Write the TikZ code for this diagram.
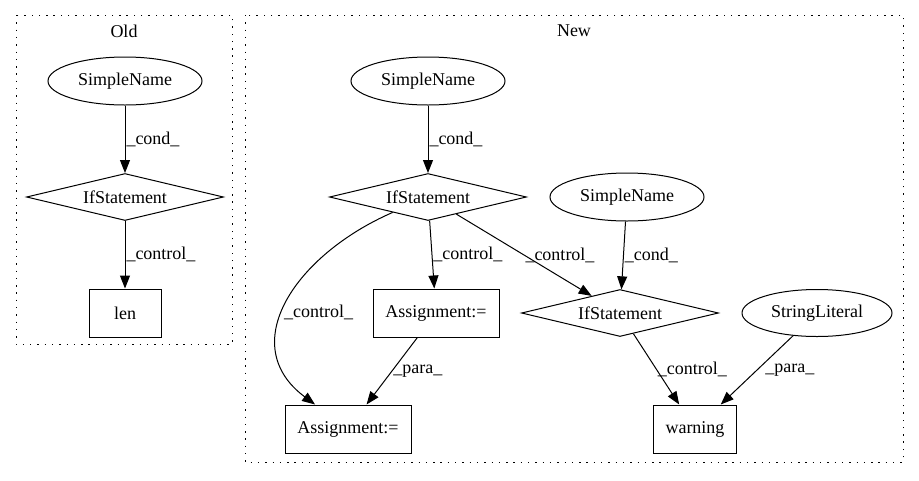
\documentclass[tikz,border=0pt]{standalone}
\usepackage{fontspec}
\setmainfont{Liberation Serif}
\usetikzlibrary{shapes.geometric,arrows.meta}

\begin{document}
\begin{tikzpicture}[x=1pt,y=-1pt,->,>={Triangle[length=13pt,width=10pt]},line width=1pt,
    font=\fontsize{18}{20}\selectfont]
    \tikzstyle{cluster}=[-,dash pattern=on 1.4pt off 5.9pt]
    \tikzstyle{token}=[draw,ellipse,minimum width=154pt,minimum height=48pt,inner sep=0pt]
    \tikzstyle{ifnode}=[draw,diamond,aspect=4.2,minimum width=197pt,minimum height=47pt,inner sep=0pt]
    \tikzstyle{stmt}=[draw,rectangle,minimum height=48pt,inner sep=0pt]
    \tikzstyle{lbl}=[anchor=west,inner sep=1pt]

    \useasboundingbox (0,0) rectangle (919,480);

    % The old version
    \draw[cluster] (16,15) rectangle (232,344);
    \node (old) at (124,31) {Old};
    \node[token] (O-sn) at (125,81) {SimpleName};
    \node[ifnode] (O-if) at (125,197) {IfStatement};
    \node[stmt,minimum width=72pt] (O-len) at (125,313) {len};

    \draw (O-sn) -- node[lbl] {\_cond\_} (O-if);
    \draw (O-if) -- node[lbl] {\_control\_} (O-len);

    % The new version
    \draw[cluster] (245,15) rectangle (903,462);
    \node (new) at (574,31) {New};
    \node[token] (N-sn1) at (428,81) {SimpleName};
    \node[ifnode] (N-if1) at (428,197) {IfStatement};
    \node[token] (N-sn2) at (627,197) {SimpleName};
    \node[stmt,minimum width=126pt] (N-as1) at (436,313) {Assignment:=};
    \node[ifnode] (N-if2) at (620,313) {IfStatement};
    \node[token,minimum width=150pt,minimum height=47pt] (N-str) at (817,313) {StringLiteral};
    \node[stmt,minimum width=126pt] (N-as2) at (348,429) {Assignment:=};
    \node[stmt,minimum width=83pt] (N-warn) at (695,429) {warning};

    % Connect them
    \draw (N-sn1) -- node[lbl] {\_cond\_} (N-if1);
    \draw (N-if1) -- node[lbl] {\_control\_} (N-as1);
    \draw (N-if1) -- node[lbl] {\_control\_} (N-if2);
    \draw (N-if1) .. controls (295,255) and (235,345) .. node[lbl,pos=0.55] {\_control\_} (N-as2);
    \draw (N-as1) -- node[lbl] {\_para\_} (N-as2);
    \draw (N-sn2) -- node[lbl] {\_cond\_} (N-if2);
    \draw (N-if2) -- node[lbl] {\_control\_} (N-warn);
    \draw (N-str) -- node[lbl,xshift=7pt] {\_para\_} (N-warn);
\end{tikzpicture}
\end{document}
